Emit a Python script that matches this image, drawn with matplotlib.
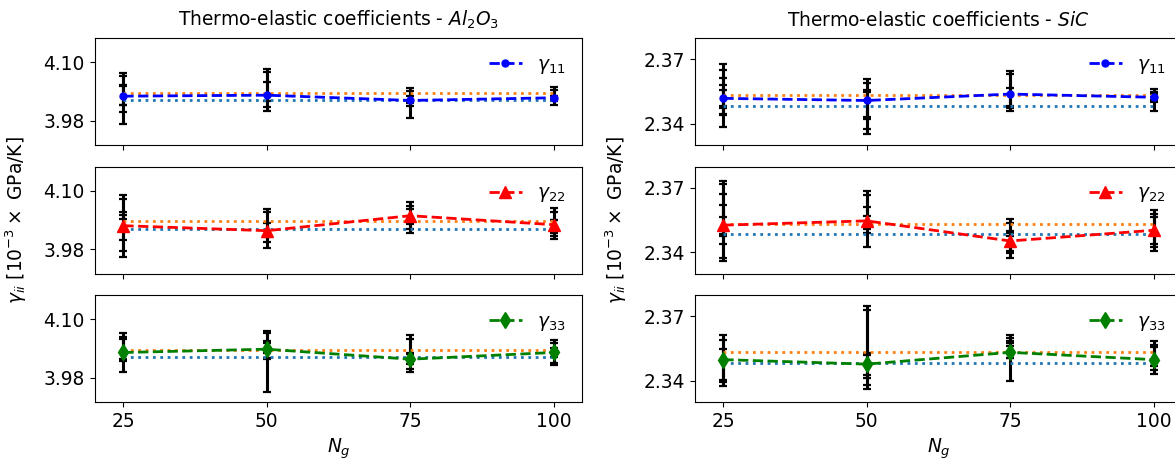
import matplotlib
matplotlib.use("Agg")
import matplotlib.pyplot as plt
from matplotlib.ticker import FormatStrFormatter

FS = 13.4
plt.rcParams['font.family'] = ['DejaVu Sans']
plt.rcParams['font.size'] = FS
plt.rcParams['mathtext.fontset'] = 'dejavusans'

# ---------------- data ----------------
n_grains = [25, 50, 75, 100]
xtick_labels = ['25', '50', '75', '100']

# Al2O3 reference values (dotted lines)
al_upper = 4.037
al_lower = 4.022
# SiC reference values (dotted lines)
sic_upper = 2.3533
sic_lower = 2.3484

# mean curves
al_g11_mean = [4.0304, 4.0324, 4.0216, 4.0271]
al_g22_mean = [4.0283, 4.0180, 4.0488, 4.0304]
al_g33_mean = [4.0318, 4.0386, 4.0180, 4.0318]
sic_g11_mean = [2.3518, 2.3508, 2.3538, 2.3523]
sic_g22_mean = [2.3526, 2.3546, 2.3452, 2.3502]
sic_g33_mean = [2.3498, 2.3477, 2.3532, 2.3498]

# per-realization error bar ends (lower / upper) for each N_g
al_g11_lo = [[3.974, 3.998, 4.013, 4.013], [4.000, 4.009, 4.020], [3.986, 4.011, 4.017], [4.013, 4.020, 4.022]]
al_g11_hi = [[4.078, 4.071, 4.054, 4.051], [4.087, 4.080, 4.059], [4.048, 4.041, 4.030], [4.050, 4.044, 4.030]]
al_g22_lo = [[3.964, 3.977, 3.999, 4.042], [3.982, 3.994, 4.005], [4.013, 4.022, 4.032], [4.001, 4.007, 4.013, 4.022]]
al_g22_hi = [[4.091, 4.083, 4.050, 4.056], [4.063, 4.056, 4.034], [4.076, 4.069, 4.063], [4.064, 4.056, 4.039, 4.039]]
al_g33_lo = [[3.991, 4.015, 4.018], [3.951, 4.018, 4.020, 4.030], [3.991, 3.998, 4.008, 4.015], [4.006, 4.011, 4.022]]
al_g33_hi = [[4.071, 4.063, 4.059], [4.052, 4.076, 4.071, 4.056], [4.067, 4.059, 4.030, 4.028], [4.057, 4.051, 4.042]]

sic_g11_lo = [[2.3382, 2.3438, 2.3446, 2.3474, 2.3484], [2.3351, 2.3377, 2.3423, 2.3430], [2.3461, 2.3474, 2.3484], [2.3461, 2.3500, 2.3508]]
sic_g11_hi = [[2.3677, 2.3649, 2.3615, 2.3581, 2.3557], [2.3608, 2.3592, 2.3557, 2.3546], [2.3646, 2.3631, 2.3566], [2.3562, 2.3549, 2.3538]]
sic_g22_lo = [[2.3358, 2.3373, 2.3439, 2.3475, 2.3483], [2.3424, 2.3491, 2.3507, 2.3522], [2.3373, 2.3397, 2.3405, 2.3475], [2.3405, 2.3424, 2.3436]]
sic_g22_hi = [[2.3731, 2.3719, 2.3672, 2.3621, 2.3562], [2.3684, 2.3668, 2.3609, 2.3570], [2.3554, 2.3538, 2.3499, 2.3491], [2.3596, 2.3580, 2.3565]]
sic_g33_lo = [[2.3373, 2.3393, 2.3405], [2.3363, 2.3381, 2.3412, 2.3428], [2.3397, 2.3505, 2.3505, 2.3560], [2.3431, 2.3451, 2.3467]]
sic_g33_hi = [[2.3611, 2.3591, 2.3549], [2.3747, 2.3731, 2.3529, 2.3521], [2.3615, 2.3599, 2.3575, 2.3587], [2.3583, 2.3568, 2.3555]]

al_yticks = [3.98, 4.10]
al_ylim = (3.93, 4.15)
sic_yticks = [2.34, 2.37]
sic_ylim = (2.330, 2.380)

labels = [r'$\gamma_{11}$', r'$\gamma_{22}$', r'$\gamma_{33}$']
colors = ['b', 'r', 'g']
markers = ['o', '^', 'd']
msizes = [5, 8, 8]

# ---------------- figure ----------------
W, H = 1175, 462
fig = plt.figure(figsize=(W / 100, H / 100), dpi=100)

col_left = [94.7 / W, 694.7 / W]
col_width = 487.5 / W
row_tops = [38, 166.5, 295]
row_h = 107

columns = [
    dict(means=[al_g11_mean, al_g22_mean, al_g33_mean],
         los=[al_g11_lo, al_g22_lo, al_g33_lo], his=[al_g11_hi, al_g22_hi, al_g33_hi],
         up=al_upper, low=al_lower, yticks=al_yticks, ylim=al_ylim,
         title=r'Thermo-elastic coefficients - $Al_2O_3$', ylab_x=-0.134),
    dict(means=[sic_g11_mean, sic_g22_mean, sic_g33_mean],
         los=[sic_g11_lo, sic_g22_lo, sic_g33_lo], his=[sic_g11_hi, sic_g22_hi, sic_g33_hi],
         up=sic_upper, low=sic_lower, yticks=sic_yticks, ylim=sic_ylim,
         title=r'Thermo-elastic coefficients - $SiC$', ylab_x=-0.134),
]

for ci, col in enumerate(columns):
    for ri in range(3):
        top = row_tops[ri]
        ax = fig.add_axes([col_left[ci], 1 - (top + row_h) / H, col_width, row_h / H])
        # error bars for each realization
        for xi, x in enumerate(n_grains):
            for lo, hi in zip(col['los'][ri][xi], col['his'][ri][xi]):
                ax.errorbar([x], [(lo + hi) / 2], yerr=[(hi - lo) / 2], fmt='none',
                            ecolor='k', elinewidth=2.2, capsize=3.2, capthick=1.6, zorder=2)
        ax.plot(n_grains, [col['up']] * len(n_grains), ':', color='tab:orange', lw=2, zorder=3)
        ax.plot(n_grains, [col['low']] * len(n_grains), ':', color='tab:blue', lw=2, zorder=3)
        ax.plot(n_grains, col['means'][ri], '--', color=colors[ri], marker=markers[ri],
                ms=msizes[ri], lw=2, label=labels[ri], zorder=4)
        ax.set_xlim(20, 105)
        ax.set_ylim(*col['ylim'])
        ax.set_yticks(col['yticks'])
        ax.yaxis.set_major_formatter(FormatStrFormatter('%.2f'))
        ax.set_xticks(n_grains)
        ax.tick_params(labelsize=FS)
        if ri == 0:
            ax.set_title(col['title'], fontsize=FS, pad=9)
        if ri < 2:
            ax.set_xticklabels([])
        else:
            ax.set_xticklabels(xtick_labels)
            ax.set_xlabel(r'$N_g$', fontsize=FS)
        if ri == 1:
            ax.set_ylabel(r'$\gamma_{ii}$ [$10^{-3}\times$ GPa/K]', fontsize=FS)
            ax.yaxis.set_label_coords(col['ylab_x'], 0.5)
        ax.legend(loc='upper right', frameon=False, fontsize=FS, handlelength=1.8)

fig.savefig('out.png', dpi=100)
